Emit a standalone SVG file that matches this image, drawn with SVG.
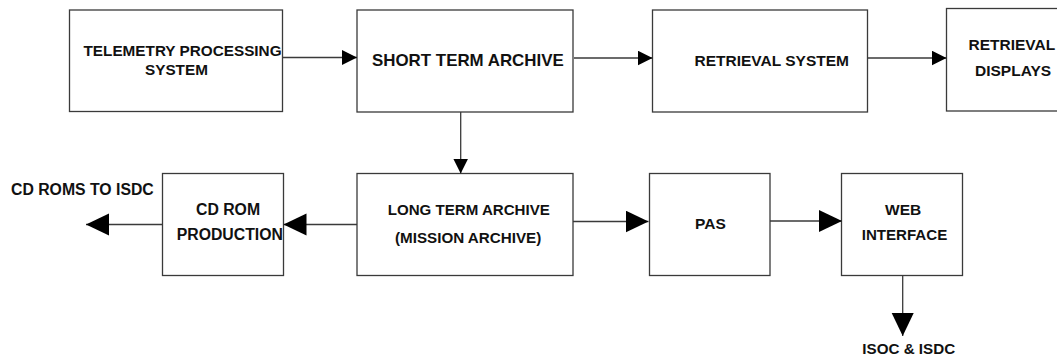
<svg xmlns="http://www.w3.org/2000/svg" width="1057" height="362" viewBox="0 0 1057 362">
  <style>
    .box { fill: #ffffff; stroke: #3a3a3a; stroke-width: 1.3; }
    .wire { fill: none; stroke: #3a3a3a; stroke-width: 1.3; }
    .lbl { font-family: "Liberation Sans", Arial, sans-serif; font-weight: bold; font-size: 15.5px; fill: #111111; }
  </style>
  <defs>
    <marker id="headS" markerUnits="userSpaceOnUse" markerWidth="16" markerHeight="16" refX="15" refY="7.5" orient="auto">
      <path d="M0,0 L15,7.5 L0,15 z" fill="#000000"/>
    </marker>
    <marker id="headL" markerUnits="userSpaceOnUse" markerWidth="24" markerHeight="23" refX="23" refY="11" orient="auto">
      <path d="M0,0 L23,11 L0,22 z" fill="#000000"/>
    </marker>
  </defs>
  <rect width="1057" height="362" fill="#ffffff"/>

  <!-- processing chain, top row -->
  <g id="telemetry-processing">
    <rect class="box" x="69.5" y="10" width="213" height="101.5"/>
    <text class="lbl" x="83.5" y="55.5" style="font-size:15.3px">TELEMETRY PROCESSING</text>
    <text class="lbl" x="145" y="75" style="font-size:15.3px">SYSTEM</text>
  </g>
  <g id="short-term-archive">
    <rect class="box" x="357" y="10" width="216" height="102"/>
    <text class="lbl" x="372" y="65.5" style="font-size:16.9px">SHORT TERM ARCHIVE</text>
  </g>
  <g id="retrieval-system">
    <rect class="box" x="652.5" y="10" width="215" height="102"/>
    <text class="lbl" x="694.5" y="65.5">RETRIEVAL SYSTEM</text>
  </g>
  <g id="retrieval-displays">
    <rect class="box" x="946.5" y="8.5" width="140" height="102.5"/>
    <text class="lbl" x="968.5" y="50">RETRIEVAL</text>
    <text class="lbl" x="975" y="76">DISPLAYS</text>
  </g>

  <!-- archive and distribution, bottom row -->
  <g id="cd-rom-production">
    <rect class="box" x="162.5" y="173.5" width="121" height="102"/>
    <text class="lbl" x="196" y="215" style="font-size:15.8px">CD ROM</text>
    <text class="lbl" x="176.7" y="240" style="font-size:15.8px">PRODUCTION</text>
  </g>
  <g id="long-term-archive">
    <rect class="box" x="357" y="173.5" width="216" height="102"/>
    <text class="lbl" x="387.7" y="215" style="font-size:15.1px">LONG TERM ARCHIVE</text>
    <text class="lbl" x="395" y="243" style="font-size:15.2px">(MISSION ARCHIVE)</text>
  </g>
  <g id="pas">
    <rect class="box" x="649.5" y="173.5" width="120.5" height="102"/>
    <text class="lbl" x="695" y="229">PAS</text>
  </g>
  <g id="web-interface">
    <rect class="box" x="841.5" y="173.5" width="121" height="102"/>
    <text class="lbl" x="885" y="215">WEB</text>
    <text class="lbl" x="861.7" y="240" style="font-size:15.1px">INTERFACE</text>
  </g>
  <g id="cd-roms-to-isdc">
    <text class="lbl" x="11" y="194.5" style="font-size:15.8px">CD ROMS TO ISDC</text>
  </g>
  <g id="isoc-isdc">
    <text class="lbl" x="862.3" y="354.3" style="font-size:15.2px">ISOC &amp; ISDC</text>
  </g>

  <!-- data flow -->
  <g id="connectors">
    <line class="wire" x1="283" y1="57.5" x2="357" y2="57.5" marker-end="url(#headS)"/>
    <line class="wire" x1="574" y1="58" x2="652.5" y2="58" marker-end="url(#headS)"/>
    <line class="wire" x1="868" y1="58" x2="946.5" y2="58" marker-end="url(#headS)"/>
    <line class="wire" x1="460.7" y1="112" x2="460.7" y2="173.5" marker-end="url(#headS)"/>
    <line class="wire" x1="357" y1="224.5" x2="283.5" y2="224.5" marker-end="url(#headL)"/>
    <line class="wire" x1="162.5" y1="224.5" x2="86" y2="224.5" marker-end="url(#headL)"/>
    <line class="wire" x1="573" y1="221.5" x2="648.5" y2="221.5" marker-end="url(#headL)"/>
    <line class="wire" x1="770" y1="221" x2="842" y2="221" marker-end="url(#headL)"/>
    <line class="wire" x1="902.7" y1="275.5" x2="902.7" y2="336" marker-end="url(#headL)"/>
  </g>
</svg>
